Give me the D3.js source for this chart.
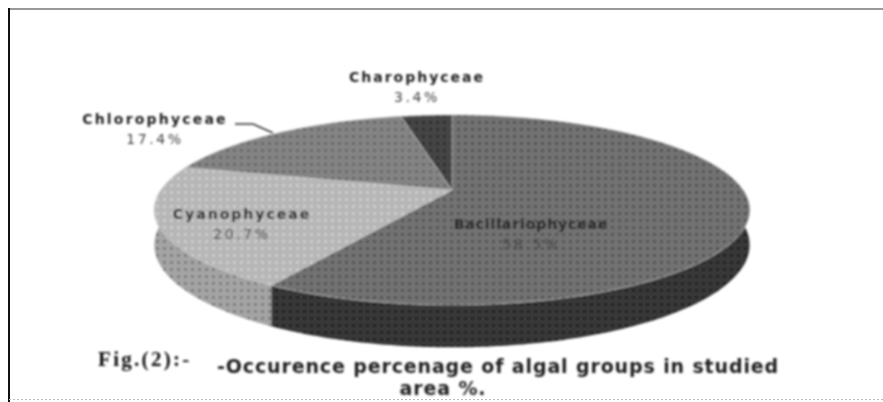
<!DOCTYPE html>
<html>
<head>
<meta charset="utf-8">
<script src="https://cdn.jsdelivr.net/npm/d3@7"></script>
<style>
  html, body { margin: 0; padding: 0; background: #fff; }
  svg { display: block; }
</style>
</head>
<body>
<svg></svg>
<script>
// Values, clockwise from 12 o'clock
const categories = ["Bacillariophyceae", "Cyanophyceae", "Chlorophyceae", "Charophyceae"];
const percentages = [58.5, 20.7, 17.4, 3.4];
const valueLabels = ["58.5%", "20.7%", "17.4%", "3.4%"];
const topColors = ["#727272", "#b6b6b6", "#848484", "#444444"];
const dotColors = ["#3c3c3c", "#dadada", "#555555", "#1c1c1c"];
const sideColors = ["#383838", "#a4a4a4", "#555555", "#222222"];
const sideDots = ["#101010", "#626262", "#333333", "#111111"];
const captionPrefix = "Fig.(2):-";
const captionLines = ["-Occurence percenage of algal groups in studied", "area %."];

const width = 883;
const height = 402;

const svg = d3.select("svg").attr("width", width).attr("height", height);
const defs = svg.append("defs");

// Blur, the original is a low resolution scan
defs.append("filter").attr("id", "soft")
  .append("feGaussianBlur").attr("stdDeviation", 0.8);

// Halftone dots on every slice, top face and side wall
function dotPattern(id, bg, dot) {
  const p = defs.append("pattern")
    .attr("id", id)
    .attr("width", 7)
    .attr("height", 7)
    .attr("patternUnits", "userSpaceOnUse");
  p.append("rect").attr("width", 7).attr("height", 7).attr("fill", bg);
  p.append("circle").attr("cx", 3.5).attr("cy", 3.5).attr("r", 1.3).attr("fill", dot);
}
categories.forEach((c, i) => {
  dotPattern(`dots${i}`, topColors[i], dotColors[i]);
  dotPattern(`side${i}`, sideColors[i], sideDots[i]);
});

// Perspective view of the pie
const center = { x: 452, y: 190 };
const radius = { x: 291, y: 90.8 };
const tilt = 0.21;
const depth = 33.5;

function project(angle, drop) {
  const u = Math.sin(angle);
  const v = -Math.cos(angle);
  const w = 1 - tilt * v;
  return [center.x + (radius.x * u) / w, center.y + (radius.y * v + drop) / w];
}

const pie = d3.pie().sort(null);
const slices = pie(percentages);
const line = d3.line();

function arcPoints(a0, a1, drop) {
  const n = Math.max(2, Math.ceil((a1 - a0) * 60));
  return d3.range(n + 1).map((i) => project(a0 + ((a1 - a0) * i) / n, drop));
}

const chart = svg.append("g").attr("filter", "url(#soft)");

// Side walls, only the front half of the rim shows
slices.forEach((d, i) => {
  const a0 = Math.max(d.startAngle, Math.PI / 2);
  const a1 = Math.min(d.endAngle, (3 * Math.PI) / 2);
  if (a1 <= a0) return;
  const pts = arcPoints(a0, a1, 0).concat(arcPoints(a0, a1, depth).reverse());
  chart.append("path").attr("d", line(pts) + "Z").attr("fill", `url(#side${i})`);
});

// Top face
slices.forEach((d, i) => {
  const pts = [[center.x, center.y]].concat(arcPoints(d.startAngle, d.endAngle, 0));
  chart.append("path")
    .attr("d", line(pts) + "Z")
    .attr("fill", `url(#dots${i})`)
    .attr("stroke", "#c8c8c8")
    .attr("stroke-width", 0.6);
});

// Leader for Chlorophyceae
chart.append("path")
  .attr("d", line(d3.zip([235, 253, 273], [124, 124, 133])))
  .attr("fill", "none")
  .attr("stroke", "#333")
  .attr("stroke-width", 1.5);

// Data labels
const labelX = [531, 242, 155, 417];
const labelY = [229, 219, 124, 82];
const labelSpacing = [0.9, 2, 2.2, 2];
categories.forEach((c, i) => {
  const t = chart.append("text")
    .attr("text-anchor", "middle")
    .attr("font-family", "'DejaVu Sans', sans-serif")
    .attr("fill", "#222");
  t.append("tspan").attr("x", labelX[i]).attr("y", labelY[i])
    .attr("font-size", 14).attr("font-weight", "bold")
    .attr("letter-spacing", labelSpacing[i]).text(c);
  t.append("tspan").attr("x", labelX[i]).attr("y", labelY[i] + 20)
    .attr("font-size", 14).attr("letter-spacing", 2.6)
    .attr("fill", "#444").text(valueLabels[i]);
});

// Caption
chart.append("text")
  .attr("x", 98).attr("y", 366)
  .attr("font-family", "'Liberation Serif', serif")
  .attr("font-size", 21)
  .attr("font-weight", "bold")
  .attr("letter-spacing", 2.3)
  .attr("fill", "#111")
  .text(captionPrefix);

chart.selectAll(".caption")
  .data(captionLines)
  .join("text")
  .attr("class", "caption")
  .attr("x", (d, i) => (i === 0 ? 498 : 443))
  .attr("y", (d, i) => 373 + i * 22)
  .attr("text-anchor", "middle")
  .attr("font-family", "'DejaVu Sans', sans-serif")
  .attr("font-size", 19)
  .attr("font-weight", "bold")
  .attr("letter-spacing", 0.87)
  .attr("fill", "#222")
  .text((d) => d);

// Border of the scanned figure
svg.append("line").attr("x1", 9).attr("x2", 883).attr("y1", 9).attr("y2", 9)
  .attr("stroke", "#999").attr("stroke-width", 2);
svg.append("line").attr("x1", 9).attr("x2", 9).attr("y1", 8).attr("y2", 402)
  .attr("stroke", "#111").attr("stroke-width", 2);
svg.append("line").attr("x1", 9).attr("x2", 883).attr("y1", 399.5).attr("y2", 399.5)
  .attr("stroke", "#bbb").attr("stroke-width", 1).attr("stroke-dasharray", "2 2");
</script>
</body>
</html>
